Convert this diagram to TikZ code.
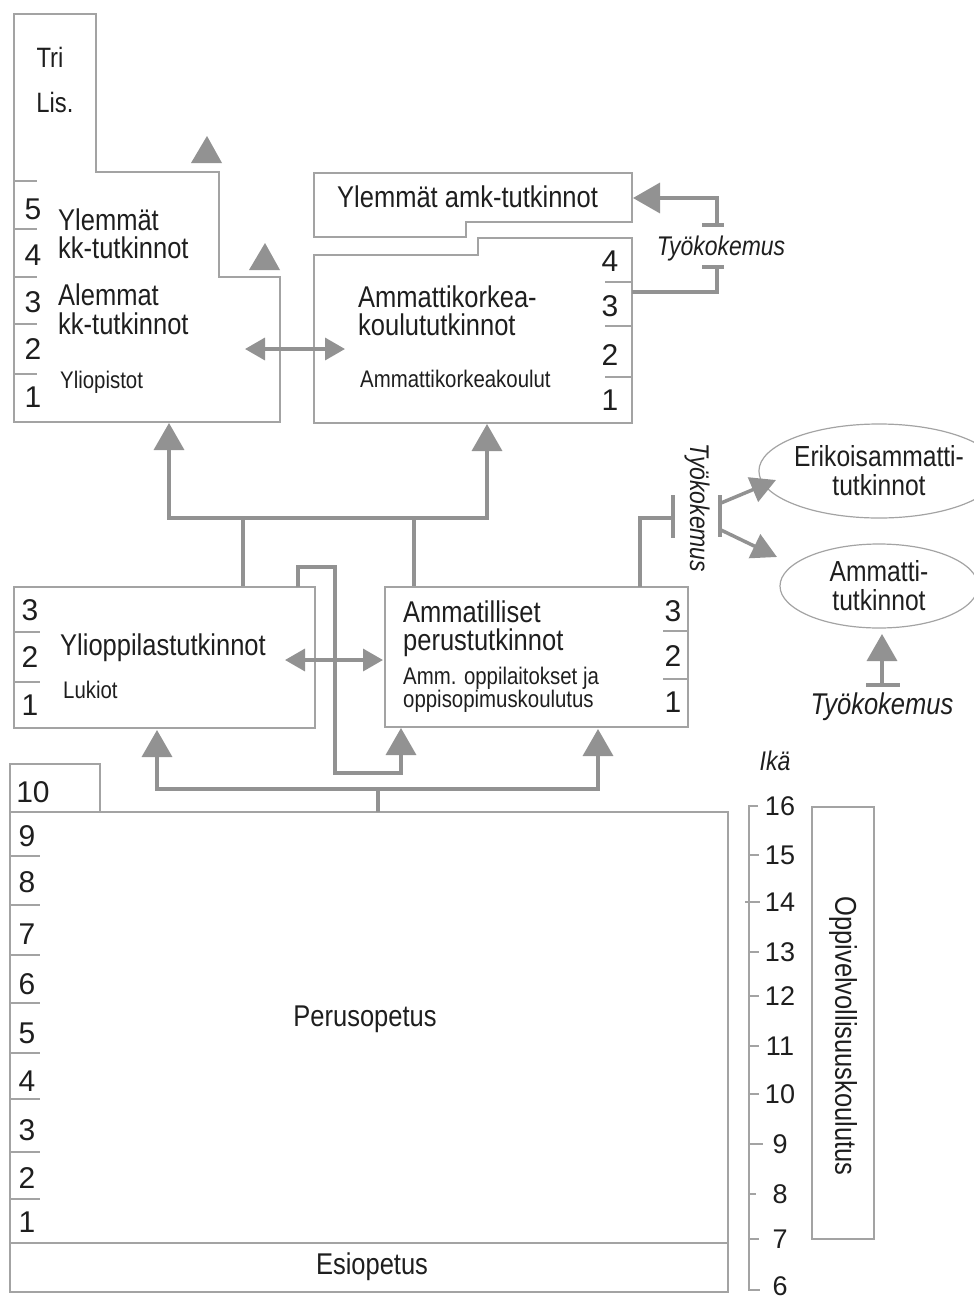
\documentclass[tikz,border=0pt]{standalone}
\usepackage{fontspec}
\setmainfont{Liberation Sans}[FakeStretch=0.85]
\newfontfamily\numfont{Liberation Sans}
\usetikzlibrary{arrows.meta,shapes.geometric}
\definecolor{bx}{HTML}{A3A3A3}
\definecolor{ar}{HTML}{929292}
\definecolor{tx}{HTML}{1E1E1E}
\tikzset{
  boxline/.style={draw=bx, line width=2pt, line join=miter},
  gtick/.style={draw=bx, line width=1.6pt},
  conn/.style={draw=ar, line width=3.5pt, line join=miter},
  arr/.style={conn, -{Triangle[width=30pt,length=27pt]}},
  darr/.style={conn, {Triangle[width=22pt,length=20pt]}-{Triangle[width=22pt,length=20pt]}},
  tarr/.style={conn, -{Triangle[width=26pt,length=25pt]}},
  tbig/.style={text=tx, font=\fontsize{30}{25}\selectfont, inner sep=0pt},
  tsmall/.style={text=tx, font=\fontsize{24}{22}\selectfont, inner sep=0pt},
  tnum/.style={text=tx, font=\numfont\fontsize{30}{30}\selectfont, inner sep=0pt},
  tage/.style={text=tx, font=\numfont\fontsize{27}{27}\selectfont, inner sep=0pt},
  tital/.style={text=tx, font=\itshape\fontsize{27}{27}\selectfont, inner sep=0pt},
  ell/.style={ellipse, draw=bx, line width=1.2pt, inner sep=0pt, minimum width=198pt, text=tx, align=center, font=\fontsize{29}{29}\selectfont},
  trifill/.style={fill=ar},
}
\begin{document}
\begin{tikzpicture}[x=1pt,y=-1pt]
\useasboundingbox (0,0) rectangle (974,1301);

% ---------------- Yliopistot ----------------
\draw[boxline] (14,14) -- (96,14) -- (96,172) -- (219,172) -- (219,277) -- (280,277) -- (280,422) -- (14,422) -- cycle;
\foreach \yy in {181,229,277,324,374} \draw[gtick] (14,\yy) -- (37,\yy);
\node[tnum] (u5) at (33,209) {5};
\node[tnum] (u4) at (33,255) {4};
\node[tnum] (u3) at (33,302) {3};
\node[tnum] (u2) at (33,349) {2};
\node[tnum] (u1) at (33,397) {1};
\node[tbig, font=\fontsize{28}{28}\selectfont] (tri) at (50,57) {Tri};
\node[tbig, font=\fontsize{28}{28}\selectfont] (lis) at (55,102) {Lis.};
\node[tbig, anchor=base west] (yl1) at (58,230) {Ylemmät};
\node[tbig, anchor=base west] (yl2) at (58,258) {kk-tutkinnot};
\node[tbig, anchor=base west] (al1) at (58,305) {Alemmat};
\node[tbig, anchor=base west] (al2) at (58,334) {kk-tutkinnot};
\node[tsmall, anchor=base west] (ylio) at (60,388) {Yliopistot};
\fill[trifill] (207,136) -- (222,163) -- (191,163) -- cycle;
\fill[trifill] (265,243) -- (280,270) -- (249,270) -- cycle;

% ---------------- Ylemmät amk ----------------
\draw[boxline] (314,173) -- (632,173) -- (632,222) -- (466,222) -- (466,237) -- (314,237) -- cycle;
\node[tbig, anchor=base west] (yamk) at (337,207) {Ylemmät amk-tutkinnot};

% ---------------- AMK ----------------
\draw[boxline] (314,255) -- (478,255) -- (478,238) -- (632,238) -- (632,423) -- (314,423) -- cycle;
\foreach \yy in {282,326,377} \draw[gtick] (605,\yy) -- (632,\yy);
\node[tnum] (a4) at (610,261) {4};
\node[tnum] (a3) at (610,306) {3};
\node[tnum] (a2) at (610,355) {2};
\node[tnum] (a1) at (610,400) {1};
\node[tbig, anchor=base west] (amk1) at (358,307) {Ammattikorkea-};
\node[tbig, anchor=base west] (amk2) at (358,335) {koulututkinnot};
\node[tsmall, anchor=base west] (amk3) at (360,387) {Ammattikorkeakoulut};

% double arrow uni <-> amk
\coordinate (uR) at (245,349);
\coordinate (aL) at (345,349);
\draw[darr] (uR) -- (aL);

% Työkokemus (upper)
\coordinate (yamkR) at (633,198);
\coordinate (t1) at (717,225);
\draw[arr] (t1) -- (717,198) -- (yamkR);
\draw[conn] (702,225) -- (724,225);
\node[tital, anchor=base] (tk1) at (721,255) {Työkokemus};
\coordinate (t2) at (717,267);
\coordinate (amkR) at (632,292);
\draw[conn] (t2) -- (717,292) -- (amkR);
\draw[conn] (702,267) -- (724,267);

% ---------------- middle connectors ----------------
\coordinate (uniB) at (169,423);
\coordinate (amkB) at (487,424);
\coordinate (hL) at (169,518);
\coordinate (hR) at (487,518);
\draw[arr] (hR) -- (hL) -- (uniB);
\draw[arr] (hL) -- (hR) -- (amkB);
\draw[conn] (243,587) -- (243,518);
\draw[conn] (414,587) -- (414,518);

% ---------------- Ylioppilastutkinnot ----------------
\draw[boxline] (14,587) rectangle (315,728);
\foreach \yy in {632,682} \draw[gtick] (14,\yy) -- (40,\yy);
\node[tnum] (l3) at (30,610) {3};
\node[tnum] (l2) at (30,657) {2};
\node[tnum] (l1) at (30,705) {1};
\node[tbig, anchor=base west] (ylt) at (60,655) {Ylioppilastutkinnot};
\node[tsmall, anchor=base west] (luk) at (63,698) {Lukiot};

% ---------------- Ammatilliset ----------------
\draw[boxline] (385,587) rectangle (688,727);
\foreach \yy in {631,679} \draw[gtick] (663,\yy) -- (688,\yy);
\node[tnum] (m3) at (673,611) {3};
\node[tnum] (m2) at (673,656) {2};
\node[tnum] (m1) at (673,702) {1};
\node[tbig, anchor=base west] (am1) at (403,622) {Ammatilliset};
\node[tbig, anchor=base west] (am2) at (403,650) {perustutkinnot};
\node[tsmall, anchor=base west] (am3) at (403,684) {Amm. oppilaitokset ja};
\node[tsmall, anchor=base west] (am4) at (403,707) {oppisopimuskoulutus};

% double arrow lukio <-> amm
\draw[darr] (285,660) -- (383,660);

% loop connector lukio -> amm
\coordinate (lTop) at (298,587);
\coordinate (amBL) at (401,728);
\draw[arr] (lTop) -- (298,567) -- (335,567) -- (335,773) -- (401,773) -- (amBL);

% ---------------- right side: Työkokemus & näyttötutkinnot ----------------
\coordinate (amTop) at (640,587);
\draw[conn] (amTop) -- (640,518) -- (673,518);
\draw[conn] (673,495) -- (673,538);
\node[tital, rotate=-90] (tk2) at (697,508) {Työkokemus};
\draw[conn] (720,495) -- (720,537);
\node[ell, minimum height=94pt] (eat) at (879,471) {Erikoisammatti-\\tutkinnot};
\node[ell, minimum height=84pt] (at) at (879,586) {Ammatti-\\tutkinnot};
\draw[tarr] (721,503) -- (776,480);
\draw[tarr] (721,530) -- (777,557);
\coordinate (tb) at (882,685);
\draw[arr] (tb) -- (882,634);
\draw[conn] (866,685) -- (900,685);
\node[tital, font=\itshape\fontsize{30}{30}\selectfont, anchor=base] (tk3) at (882,714) {Työkokemus};

% ---------------- Perusopetus ----------------
\draw[boxline] (10,764) rectangle (100,812);
\draw[boxline] (10,812) rectangle (728,1292);
\draw[boxline] (10,1243) -- (728,1243);
\foreach \yy in {856,905,955,1003,1053,1099,1152,1199} \draw[gtick] (10,\yy) -- (40,\yy);
\node[tnum] (g10) at (33,792) {10};
\node[tnum] (g9) at (27,836) {9};
\node[tnum] (g8) at (27,882) {8};
\node[tnum] (g7) at (27,934) {7};
\node[tnum] (g6) at (27,984) {6};
\node[tnum] (g5) at (27,1033) {5};
\node[tnum] (g4) at (27,1081) {4};
\node[tnum] (g3) at (27,1130) {3};
\node[tnum] (g2) at (27,1178) {2};
\node[tnum] (g1) at (27,1222) {1};
\node[tbig] (perus) at (365,1019) {Perusopetus};
\node[tbig] (esi) at (372,1267) {Esiopetus};

% bottom connectors
\coordinate (pTop) at (378,812);
\coordinate (jB) at (378,789);
\coordinate (ylB) at (157,730);
\coordinate (amB2) at (598,729);
\draw[arr] (598,789) -| (ylB);
\draw[arr] (157,789) -| (amB2);
\draw[conn] (pTop) -- (jB);

% ---------------- age scale ----------------
\node[tital, font=\itshape\fontsize{27}{27}\selectfont] (ika) at (775,761) {Ikä};
\draw[gtick] (758,806) -- (749,806) -- (749,1290) -- (760,1290);
\foreach \yy in {855,952,996,1046,1094,1239} \draw[gtick] (749,\yy) -- (759,\yy);
\draw[gtick] (745,902) -- (760,902);
\draw[gtick] (749,1144) -- (763,1144);
\draw[gtick] (749,1194) -- (756,1194);
\node[tage] (a16) at (780,806) {16};
\node[tage] (a15) at (780,855) {15};
\node[tage] (a14) at (780,902) {14};
\node[tage] (a13) at (780,952) {13};
\node[tage] (a12) at (780,996) {12};
\node[tage] (a11) at (780,1046) {11};
\node[tage] (a10) at (780,1094) {10};
\node[tage] (a9) at (780,1144) {9};
\node[tage] (a8) at (780,1194) {8};
\node[tage] (a7) at (780,1239) {7};
\node[tage] (a6) at (780,1286) {6};

\draw[boxline] (812,807) rectangle (874,1239);
\node[tbig, rotate=-90] (oppi) at (843,1036) {Oppivelvollisuuskoulutus};
\end{tikzpicture}
\end{document}
